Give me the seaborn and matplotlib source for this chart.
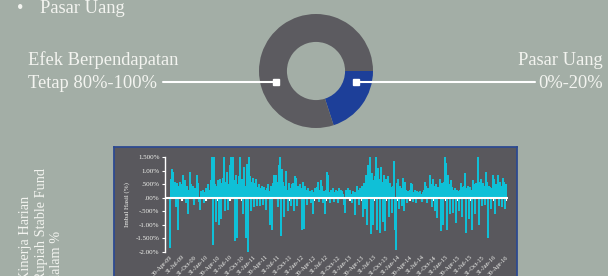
"""
Alokasi aset + kinerja harian Rupiah Stable Fund
"""

import numpy as np
import pandas as pd
import matplotlib
matplotlib.use("Agg")
import matplotlib.pyplot as plt
import seaborn as sns

sns.set_theme(style="white")
plt.rcParams["font.family"] = ["Liberation Serif", "DejaVu Serif"]

# ---- data ----
alokasi_label = ["Pasar Uang", "Efek Berpendapatan Tetap"]
alokasi_nilai = [20, 80]

# imbal hasil harian (%)
imbal_hasil = [
    -1.85, 0.70, 1.05, 0.95, 0.40, 0.60, -0.35, 0.55, -1.20, 0.45,
    0.60, 0.35, 0.50, 0.85, 0.30, 0.65, -0.20, 0.45, -0.60, 0.30,
    0.95, 0.50, 0.25, 0.45, -0.25, 0.35, 0.20, 0.85, 0.55, -0.15,
    -0.45, 0.25, 0.15, 0.30, -0.20, 0.20, 0.35, 0.15, 0.50, 0.25,
    0.30, 0.65, 1.50, -1.75, 1.50, 0.50, -0.90, 0.45, 0.65, -1.00,
    0.70, -0.80, 0.55, 0.75, 1.50, -0.50, 0.60, 0.95, -0.45, 0.50,
    1.20, 1.50, 1.00, 1.50, 0.65, -1.60, 0.85, -1.50, 0.50, 0.80,
    1.50, 0.30, 0.70, -0.60, 1.15, 0.45, -1.50, 1.25, -2.00, 1.50,
    0.80, -0.50, 0.60, 0.75, -0.35, 0.55, 0.70, -0.30, 0.40, 0.50,
    -0.30, 0.35, 0.45, -0.25, 0.40, 0.30, -0.45, 0.35, 0.50, 0.25,
    -1.00, 0.45, -1.20, 0.55, 0.85, 0.40, 0.85, 0.60, -0.35, 1.20,
    1.50, -1.40, 1.05, 0.60, -0.70, 0.45, 1.00, 0.30, -0.50, 0.55,
    0.35, -0.30, 0.50, 0.55, -0.50, 0.80, 0.75, -0.30, 0.45, 0.30,
    0.50, 0.35, -1.20, 0.60, -1.15, 0.45, 0.30, -0.25, 0.35, 0.20,
    0.25, -0.20, 0.30, -0.60, 0.20, 0.35, 0.15, 0.40, 0.60, -0.15,
    0.30, 0.65, 0.45, -0.20, 0.25, -0.60, 0.30, 0.95, 0.85, 0.20,
    -0.20, 0.30, 0.25, 0.35, -0.15, 0.20, 0.30, 0.25, -0.20, 0.35,
    0.20, 0.30, 0.25, 0.15, -0.25, -0.55, 0.30, 0.20, 0.35, 0.25,
    0.30, 0.15, -0.20, 0.25, 0.20, -0.65, 0.20, 0.45, 0.30, -0.25,
    0.35, 0.20, 0.45, -0.70, 0.55, -0.40, 0.85, -1.00, 1.20, 0.60,
    1.50, -1.35, 0.90, -1.00, 0.65, 0.80, 1.50, -1.20, 1.10, 0.70,
    -1.30, 1.15, 0.60, -0.90, 0.85, -1.25, 0.70, 0.50, 0.80, -0.70,
    0.55, 0.40, -0.55, 0.45, 1.35, -1.20, -1.95, 0.55, 0.70, -0.40,
    0.45, 0.35, -0.30, 0.75, -0.50, 0.60, 0.30, -0.20, 0.25, 0.20,
    0.30, 0.55, 0.50, -0.15, 0.20, 0.30, -0.20, 0.25, 0.15, 0.20,
    0.25, 0.15, -0.15, 0.20, 0.30, 0.60, 0.45, -0.20, 0.35, 0.25,
    0.85, 0.50, -0.35, 0.70, 0.45, -0.50, 0.50, -0.75, 0.40, 0.35,
    0.70, -1.25, 0.55, -1.00, 0.60, 1.50, 1.30, -1.20, 0.85, 0.50,
    -0.60, 0.65, 0.40, -0.55, 0.30, 0.35, -0.95, 0.30, 0.25, -0.50,
    0.30, 0.55, -0.70, 0.40, 0.45, 0.90, -1.30, 0.35, 0.45, -0.80,
    0.40, 0.30, -1.20, 0.65, 0.50, -0.60, 0.55, 0.35, 1.50, -1.00,
    0.60, 0.70, -0.30, 0.55, 0.45, -0.25, 0.95, 0.60, -1.50, 0.45,
    0.40, -0.40, 0.35, 0.85, 0.70, -0.60, 0.50, 0.35, 0.85, -0.30,
    0.60, 0.45, -0.35, 0.75, 0.60, -0.40, 0.50,
]

tanggal_label = [
    "30-Apr-09", "31-Jul-09", "31-Oct-09", "31-Jan-10", "30-Apr-10",
    "31-Jul-10", "31-Oct-10", "31-Jan-11", "30-Apr-11", "31-Jul-11",
    "31-Oct-11", "31-Jan-12", "30-Apr-12", "31-Jul-12", "31-Oct-12",
    "31-Jan-13", "30-Apr-13", "31-Jul-13", "31-Oct-13", "31-Jan-14",
    "30-Apr-14", "31-Jul-14", "31-Oct-14", "31-Jan-15", "30-Apr-15",
    "31-Jul-15", "31-Oct-15", "31-Jan-16", "30-Apr-16",
]

y_ticks = [1.5, 1.0, 0.5, 0.0, -0.5, -1.0, -1.5, -2.0]
y_ticklabels = ["1.500%", "1.00%", ".500%", ".00%", "-.500%", "-1.00%", "-1.500%", "-2.00%"]

# ---- warna ----
BG = "#a3aea6"
PANEL = "#59585d"
BORDER = "#2d4a90"
CYAN = "#0fc0d7"
DONUT_GRAY = "#5c5b60"
DONUT_BLUE = "#1d3f99"
TXT = "#f3f4f0"

W, H = 608, 276
fig = plt.figure(figsize=(W / 100, H / 100), dpi=100)
fig.patch.set_facecolor(BG)


def px_rect(x0, y0, x1, y1):
    """kotak piksel (y dari atas) -> koordinat figure"""
    return [x0 / W, 1 - y1 / H, (x1 - x0) / W, (y1 - y0) / H]


# panel gelap di belakang grafik
panel = fig.add_axes(px_rect(114, 146.5, 517, 310))
panel.set_facecolor(PANEL)
panel.set_xticks([])
panel.set_yticks([])
for sp in panel.spines.values():
    sp.set_color(BORDER)
    sp.set_linewidth(1.3)

# grafik batang
ax = fig.add_axes(px_rect(165, 157.3, 508, 251.7))
ax.set_facecolor("none")
df = pd.DataFrame({"idx": np.arange(len(imbal_hasil)), "ret": imbal_hasil})
sns.barplot(data=df, x="idx", y="ret", color=CYAN, saturation=1, width=1.25,
            linewidth=0, errorbar=None, ax=ax)

ymin, ymax = -2.0, 1.5
ax.set_ylim(ymin, ymax)
ax.set_xlim(-5, 338)
ax.axhline(0, color="white", lw=1.5, zorder=3)

tick_pos = np.linspace(0, len(imbal_hasil) - 1, len(tanggal_label))
ax.set_xticks(tick_pos)
ax.set_xticklabels(tanggal_label, rotation=45, ha="right", rotation_mode="anchor",
                   fontsize=4.5, color=TXT)
ax.tick_params(axis="x", length=0, pad=2)
ax.set_xlabel("")

ax.set_yticks(y_ticks)
ax.set_yticklabels(y_ticklabels, fontsize=5, color=TXT)
ax.tick_params(axis="y", length=2, width=0.8, color="white", pad=2, left=True)
ax.set_ylabel("Imbal Hasil (%)", fontsize=5, color=TXT, labelpad=4)

for s in ["top", "right", "bottom"]:
    ax.spines[s].set_visible(False)
ax.spines["left"].set_color("white")
ax.spines["left"].set_linewidth(1.0)

# tanda tick kecil pada garis nol
sec = ax.secondary_xaxis((0 - ymin) / (ymax - ymin))
sec.set_xticks(tick_pos)
sec.set_xticklabels([])
sec.xaxis.set_ticks_position("bottom")
sec.tick_params(axis="x", direction="out", length=2, width=1.5, color="white")
for sp in sec.spines.values():
    sp.set_visible(False)

# donut alokasi
ax_pie = fig.add_axes(px_rect(316 - 57, 71 - 57, 316 + 57, 71 + 57))
ax_pie.pie(alokasi_nilai, colors=[DONUT_BLUE, DONUT_GRAY], startangle=0,
           counterclock=False, radius=1,
           wedgeprops=dict(width=0.49, edgecolor="none"))
ax_pie.set_xlim(-1, 1)
ax_pie.set_ylim(-1, 1)
ax_pie.set_axis_off()

# lapisan teks & garis penunjuk (koordinat piksel)
ov = fig.add_axes([0, 0, 1, 1])
ov.set_xlim(0, W)
ov.set_ylim(H, 0)
ov.set_axis_off()
ov.patch.set_alpha(0)

fs = 13.3
ov.text(20, 13, "\u2022", fontsize=fs, color=TXT, ha="center", va="baseline")
ov.text(40, 13, "Pasar Uang", fontsize=fs, color=TXT, va="baseline")
ov.text(28, 65, "Efek Berpendapatan", fontsize=fs, color=TXT, va="baseline")
ov.text(28, 88, "Tetap 80%-100%", fontsize=fs, color=TXT, va="baseline")
ov.text(603, 65, "Pasar Uang", fontsize=fs, color=TXT, va="baseline", ha="right")
ov.text(603, 88, "0%-20%", fontsize=fs, color=TXT, va="baseline", ha="right")

ov.plot([163, 276], [82, 82], color="white", lw=1.5)
ov.plot([356, 535], [82, 82], color="white", lw=1.5)
ov.plot([276, 356], [82, 82], ls="none", marker="s", ms=4.5, color="white")

ov.text(41, 281, "Kinerja Harian\nRupiah Stable Fund\ndalam %", rotation=90,
        fontsize=10.3, color=TXT, ha="center", va="bottom",
        multialignment="left", linespacing=1.22)

fig.savefig("out.png", dpi=100, facecolor=BG)
